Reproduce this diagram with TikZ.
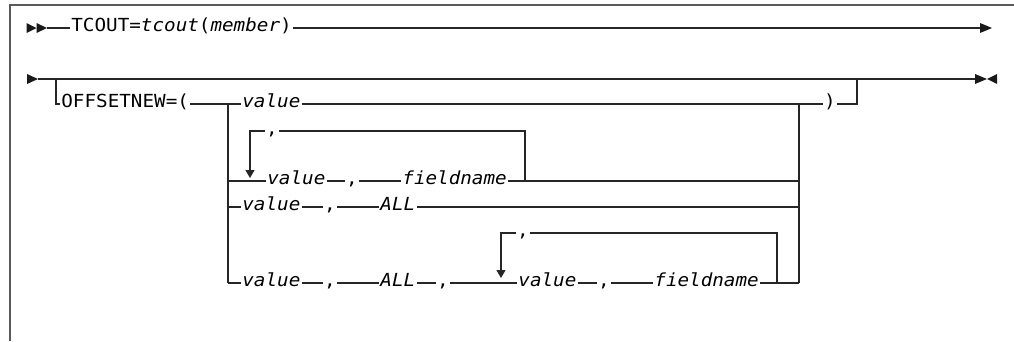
\documentclass[tikz,border=0pt]{standalone}
\usepackage{fontspec}
\newfontfamily\synfont[FakeStretch=1.07]{DejaVu Sans Mono}
\usetikzlibrary{arrows.meta}
\begin{document}
\begin{tikzpicture}[x=1pt,y=-1pt,
  synline/.style={line width=1.2pt,draw=black!85},
  frm/.style={line width=1.5pt,draw=black!65},
  tri/.style={fill=black!90},
  lbl/.style={inner xsep=1.2pt,inner ysep=0pt,text height=10pt,text depth=3pt,anchor=west,font=\synfont\fontsize{18pt}{21pt}\selectfont},
  commanode/.style={lbl,anchor=center},
  dnarrow/.style={synline,-{Triangle[width=9pt,length=8pt]}}]
\useasboundingbox (0,0) rectangle (1014,341);
% frame
\draw[frm] (10,341) -- (10,5) -- (1014,5);
% ---- row A
\fill[tri] (26.5,23) -- (36.5,28) -- (26.5,33) -- cycle;
\fill[tri] (36.5,23) -- (47,28) -- (36.5,33) -- cycle;
\coordinate (a0) at (47,28);
\coordinate (a1) at (980,28);
\node[lbl] (tc) at (70,28) {TCOUT=\textit{tcout}(\textit{member})};
\draw[synline] (a0) -- (tc.west);
\draw[synline] (tc.east) -- (a1);
\fill[tri] (980,23) -- (992,28) -- (980,33) -- cycle;
% ---- row B
\fill[tri] (27,74) -- (38,79) -- (27,84) -- cycle;
\coordinate (b0) at (38,79);
\coordinate (b1) at (975,79);
\draw[synline] (b0) -- (b1);
\fill[tri] (975,74) -- (987,79) -- (975,84) -- cycle;
\fill[tri] (997,74) -- (987,79) -- (997,84) -- cycle;
\coordinate (bL) at (56,79);
\coordinate (bR) at (857,79);
\node[lbl] (off) at (60,104) {OFFSETNEW=(};
\coordinate (jL) at (228,104);
\coordinate (jR) at (799,104);
\node[lbl] (v1) at (241,104) {\itshape value};
\node[commanode] (rp) at (830,104) {)};
\draw[synline] (bL) |- (off.west);
\draw[synline] (off.east) -- (jL) -- (v1.west);
\draw[synline] (v1.east) -- (jR) -- (rp.west);
\draw[synline] (rp.east) -| (bR);
% left / right verticals
\coordinate (jL4) at (228,283);
\coordinate (jR4) at (799,283);
\draw[synline] (jL) -- (jL4);
\draw[synline] (jR) -- (jR4);
% ---- row D (repeat)
\node[lbl] (v2) at (266,181) {\itshape value};
\node[commanode] (c2) at (352,181) {,};
\node[lbl] (f2) at (401,181) {\itshape fieldname};
\coordinate (d0) at (228,181);
\coordinate (d1) at (799,181);
\coordinate (dR) at (525,181);
\draw[synline] (d0) -- (v2.west);
\draw[synline] (v2.east) -- (c2.west);
\draw[synline] (c2.east) -- (f2.west);
\draw[synline] (f2.east) -- (d1);
\node[commanode] (lc2) at (272,131) {,};
\coordinate (dT) at (250,131);
\coordinate (dA) at (250,178);
\draw[synline] (dR) |- (lc2.east);
\draw[dnarrow] (lc2.west) -- (dT) -- (dA);
% ---- row E
\node[lbl] (v3) at (241,207) {\itshape value};
\node[commanode] (c3) at (330,207) {,};
\node[lbl] (a3) at (379,207) {\itshape ALL};
\coordinate (e0) at (228,207);
\coordinate (e1) at (799,207);
\draw[synline] (e0) -- (v3.west);
\draw[synline] (v3.east) -- (c3.west);
\draw[synline] (c3.east) -- (a3.west);
\draw[synline] (a3.east) -- (e1);
% ---- row F
\node[lbl] (v4) at (241,283) {\itshape value};
\node[commanode] (c4) at (330,283) {,};
\node[lbl] (a4) at (379,283) {\itshape ALL};
\node[commanode] (c5) at (443,283) {,};
\node[lbl] (v5) at (517,283) {\itshape value};
\node[commanode] (c6) at (604,283) {,};
\node[lbl] (f4) at (653,283) {\itshape fieldname};
\coordinate (fR) at (777,283);
\draw[synline] (jL4) -- (v4.west);
\draw[synline] (v4.east) -- (c4.west);
\draw[synline] (c4.east) -- (a4.west);
\draw[synline] (a4.east) -- (c5.west);
\draw[synline] (c5.east) -- (v5.west);
\draw[synline] (v5.east) -- (c6.west);
\draw[synline] (c6.east) -- (f4.west);
\draw[synline] (f4.east) -- (jR4);
\node[commanode] (lc4) at (523,233) {,};
\coordinate (fT) at (501,233);
\coordinate (fA) at (501,278);
\draw[synline] (fR) |- (lc4.east);
\draw[dnarrow] (lc4.west) -- (fT) -- (fA);
\end{tikzpicture}
\end{document}
